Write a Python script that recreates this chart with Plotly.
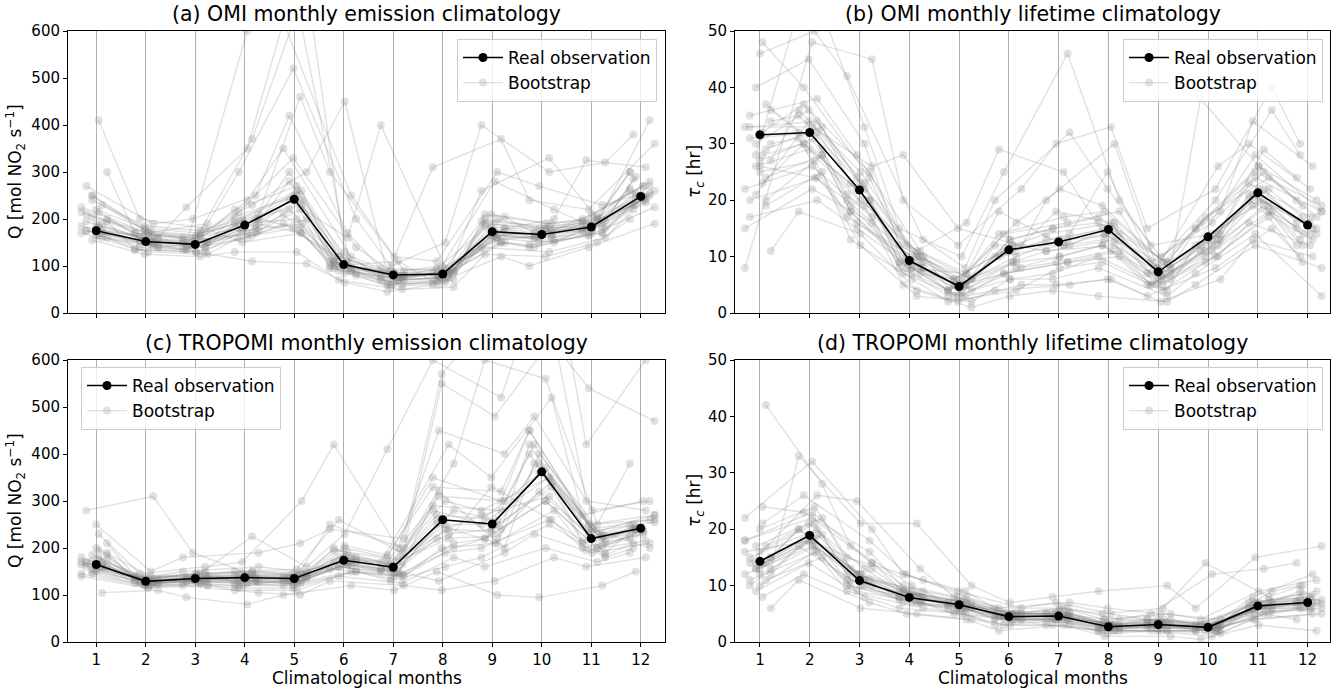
import plotly.graph_objects as go

months = list(range(1, 13))
month_labels = [str(m) for m in months]

# Real observations
omi_Q = [175, 152, 146, 187, 242, 103, 81, 83, 173, 167, 183, 248]
omi_tau = [31.6, 32.0, 21.8, 9.3, 4.7, 11.2, 12.6, 14.8, 7.3, 13.5, 21.3, 15.6]
tropomi_Q = [165, 129, 135, 137, 135, 174, 159, 260, 251, 362, 220, 242]
tropomi_tau = [14.3, 18.9, 10.9, 7.9, 6.6, 4.5, 4.6, 2.7, 3.1, 2.6, 6.4, 7.0]

# Bootstrap samples
omi_Q_boot = [
    [180, 150, 140, 200, 260, 110, 75, 80, 170, 160, 180, 250],
    [210, 165, 155, 170, 220, 95, 70, 75, 190, 175, 195, 270],
    [160, 140, 135, 240, 350, 120, 85, 90, 160, 150, 170, 230],
    [250, 180, 170, 190, 200, 90, 60, 70, 210, 190, 200, 300],
    [300, 170, 160, 370, 700, 130, 65, 85, 150, 140, 165, 260],
    [170, 130, 125, 160, 180, 80, 55, 65, 140, 130, 160, 220],
    [190, 155, 150, 210, 460, 300, 90, 100, 280, 220, 190, 240],
    [410, 200, 180, 150, 170, 100, 110, 60, 180, 160, 210, 280],
    [175, 145, 140, 180, 240, 160, 400, 80, 165, 170, 175, 245],
    [230, 160, 145, 600, 800, 90, 75, 95, 200, 180, 185, 290],
    [155, 125, 120, 130, 130, 70, 50, 55, 125, 120, 150, 200],
    [200, 170, 165, 230, 300, 450, 85, 310, 370, 240, 220, 360],
    [185, 150, 150, 180, 250, 85, 60, 70, 260, 330, 180, 230],
    [220, 175, 160, 200, 180, 100, 80, 85, 175, 200, 325, 310],
    [165, 140, 130, 175, 190, 110, 70, 75, 150, 140, 170, 410],
    [270, 190, 200, 250, 420, 170, 95, 90, 210, 190, 200, 270],
    [175, 160, 225, 350, 620, 250, 120, 110, 300, 270, 230, 250],
    [240, 185, 175, 195, 260, 120, 75, 90, 190, 180, 190, 260],
    [195, 135, 130, 110, 105, 65, 45, 60, 120, 100, 140, 190],
    [215, 170, 190, 300, 520, 200, 100, 150, 400, 300, 320, 380],
    [165, 145, 135, 175, 220, 95, 70, 75, 165, 155, 175, 235],
    [185, 160, 150, 195, 230, 105, 80, 80, 180, 170, 185, 255],
    [195, 150, 145, 185, 280, 115, 85, 85, 175, 165, 190, 250],
    [170, 140, 145, 170, 210, 90, 65, 70, 160, 160, 170, 240],
    [205, 165, 160, 205, 250, 100, 75, 90, 185, 175, 200, 265],
    [160, 135, 130, 165, 200, 85, 60, 65, 150, 145, 165, 225],
    [225, 170, 150, 215, 330, 140, 90, 95, 195, 185, 195, 285],
    [180, 155, 155, 190, 170, 110, 80, 80, 170, 150, 180, 245],
    [215, 160, 140, 180, 240, 95, 70, 75, 205, 170, 185, 270],
    [175, 150, 150, 200, 300, 105, 75, 85, 165, 160, 175, 240],
    [190, 145, 135, 160, 190, 100, 85, 80, 155, 165, 200, 255],
    [250, 175, 165, 220, 270, 120, 80, 85, 200, 180, 205, 300],
]
omi_tau_boot = [
    [31, 32, 22, 9, 5, 11, 13, 15, 7, 13, 21, 16],
    [20, 28, 18, 7, 3, 8, 10, 12, 5, 10, 18, 12],
    [40, 45, 30, 12, 6, 14, 16, 18, 9, 16, 25, 20],
    [27, 36, 25, 10, 4, 6, 7, 10, 4, 12, 28, 18],
    [15, 22, 16, 5, 2, 5, 5, 6, 3, 8, 15, 10],
    [46, 50, 42, 13, 8, 20, 32, 22, 10, 18, 34, 26],
    [23, 30, 20, 8, 7, 18, 12, 13, 6, 11, 22, 14],
    [35, 38, 28, 11, 3, 9, 20, 30, 8, 26, 30, 22],
    [19, 25, 13, 6, 2, 4, 8, 9, 4, 9, 17, 9],
    [28, 60, 33, 15, 10, 25, 46, 20, 12, 14, 20, 15],
    [11, 18, 14, 4, 1, 3, 4, 3, 2, 5, 12, 8],
    [33, 33, 26, 28, 15, 12, 18, 16, 7, 20, 36, 28],
    [25, 27, 17, 9, 5, 10, 14, 25, 6, 13, 19, 13],
    [48, 40, 24, 10, 16, 29, 25, 14, 8, 38, 26, 17],
    [17, 20, 15, 7, 6, 12, 11, 12, 5, 10, 16, 12],
    [37, 29, 19, 8, 4, 16, 22, 19, 9, 17, 24, 19],
    [21, 34, 23, 9, 5, 7, 9, 11, 5, 12, 29, 24],
    [30, 31, 12, 3, 2, 6, 6, 8, 3, 7, 14, 3],
    [8, 48, 45, 20, 12, 22, 30, 33, 15, 22, 40, 30],
    [26, 24, 20, 8, 3, 4, 5, 6, 2, 6, 13, 10],
    [28, 30, 20, 9, 5, 10, 12, 14, 7, 12, 20, 15],
    [33, 34, 24, 10, 6, 12, 14, 16, 8, 14, 23, 17],
    [24, 28, 18, 8, 4, 9, 10, 12, 6, 11, 19, 14],
    [30, 36, 22, 9, 4, 11, 13, 14, 7, 13, 22, 16],
    [36, 32, 20, 11, 6, 13, 15, 17, 9, 15, 24, 18],
    [22, 26, 17, 7, 3, 8, 9, 11, 5, 10, 18, 13],
    [27, 31, 21, 10, 5, 12, 12, 15, 7, 14, 21, 15],
    [32, 37, 25, 12, 7, 14, 17, 18, 8, 16, 26, 20],
    [20, 24, 16, 8, 5, 9, 11, 13, 6, 12, 20, 14],
    [29, 33, 23, 9, 4, 10, 13, 15, 7, 13, 22, 17],
    [26, 29, 19, 8, 3, 7, 9, 10, 5, 11, 19, 12],
    [34, 35, 23, 10, 6, 13, 15, 16, 9, 15, 25, 19],
]
tropomi_Q_boot = [
    [165, 130, 135, 138, 135, 175, 160, 260, 250, 360, 220, 240],
    [150, 120, 125, 120, 125, 160, 140, 200, 220, 300, 200, 220],
    [190, 135, 145, 150, 140, 200, 180, 350, 300, 450, 250, 260],
    [140, 115, 120, 115, 115, 150, 130, 160, 180, 250, 180, 200],
    [200, 140, 150, 160, 150, 250, 200, 550, 480, 650, 300, 280],
    [175, 125, 130, 130, 130, 170, 150, 130, 190, 230, 190, 210],
    [280, 310, 190, 140, 130, 190, 170, 420, 350, 520, 270, 300],
    [160, 125, 130, 125, 120, 150, 140, 250, 210, 400, 230, 240],
    [145, 120, 125, 110, 110, 140, 125, 180, 160, 200, 170, 190],
    [210, 140, 140, 225, 160, 230, 410, 600, 520, 700, 540, 470],
    [180, 130, 140, 140, 145, 180, 165, 300, 280, 350, 210, 250],
    [155, 120, 120, 105, 100, 130, 120, 110, 130, 180, 160, 180],
    [230, 145, 160, 170, 300, 420, 200, 450, 400, 480, 280, 300],
    [170, 128, 135, 130, 140, 165, 155, 220, 330, 260, 200, 230],
    [105, 110, 95, 80, 100, 120, 110, 150, 100, 95, 120, 150],
    [185, 135, 145, 150, 155, 260, 190, 380, 600, 560, 250, 380],
    [160, 125, 130, 140, 135, 180, 160, 280, 240, 420, 230, 270],
    [170, 125, 135, 130, 125, 170, 150, 240, 270, 310, 190, 240],
    [250, 150, 180, 190, 210, 240, 220, 570, 700, 800, 420, 600],
    [195, 130, 150, 120, 135, 200, 145, 320, 200, 380, 240, 200],
    [160, 128, 132, 130, 130, 165, 150, 230, 240, 330, 210, 235],
    [170, 132, 138, 140, 138, 178, 162, 270, 260, 380, 225, 245],
    [155, 125, 128, 125, 128, 160, 145, 210, 220, 300, 200, 225],
    [175, 135, 140, 145, 140, 185, 170, 290, 280, 400, 235, 255],
    [165, 130, 135, 135, 132, 172, 158, 250, 250, 350, 220, 240],
    [150, 122, 128, 128, 125, 155, 140, 200, 210, 280, 195, 215],
    [180, 135, 142, 148, 145, 195, 175, 310, 300, 420, 240, 260],
    [168, 128, 133, 135, 135, 170, 155, 240, 235, 340, 215, 238],
    [158, 124, 130, 128, 128, 162, 148, 220, 225, 320, 205, 230],
    [172, 133, 137, 142, 140, 180, 165, 280, 265, 370, 228, 248],
    [185, 138, 145, 150, 148, 205, 185, 330, 320, 450, 250, 270],
    [145, 118, 122, 120, 120, 150, 135, 190, 200, 260, 185, 210],
]
tropomi_tau_boot = [
    [14, 19, 11, 8, 6.6, 4.5, 4.6, 2.7, 3.1, 2.6, 6.4, 7],
    [12, 17, 10, 7, 6, 4, 4, 2, 2, 2, 5, 6],
    [18, 22, 14, 10, 8, 5, 5, 3, 4, 3, 7, 9],
    [10, 16, 9, 6, 5, 3, 3, 1.5, 2, 1.5, 4, 5],
    [21, 26, 18, 12, 8, 6, 6, 4, 5, 4, 9, 11],
    [15, 20, 12, 8, 7, 5, 5, 3, 3, 3, 6, 8],
    [42, 28, 17, 10, 7, 5, 6, 5, 6, 14, 8, 10],
    [9, 14, 8, 6, 5, 3, 4, 2, 2, 1, 5, 4],
    [13, 33, 21, 21, 10, 7, 8, 9, 10, 6, 15, 17],
    [16, 18, 13, 9, 6, 4, 4, 3, 3, 2, 6, 7],
    [20, 24, 15, 11, 9, 6, 7, 6, 5, 4, 8, 12],
    [8, 12, 7, 5, 4, 2, 3, 1, 1, 0.5, 3, 2],
    [14, 26, 25, 13, 8, 5, 5, 3, 4, 3, 7, 8],
    [11, 15, 10, 7, 6, 4, 4, 2, 3, 2, 5, 6],
    [17, 21, 13, 9, 7, 5, 6, 4, 5, 12, 13, 14],
    [6, 11, 6, 5, 4, 3, 3, 2, 2, 2, 4, 5],
    [22, 32, 20, 12, 9, 6, 7, 5, 4, 3, 9, 10],
    [13, 18, 11, 8, 6, 4, 5, 3, 3, 3, 6, 7],
    [24, 23, 16, 9, 7, 5, 5, 4, 4, 3, 7, 9],
    [10, 19, 12, 7, 5, 4, 3, 2, 2, 2, 6, 6],
    [14, 19, 11, 8, 6.5, 4.5, 4.6, 2.8, 3.1, 2.7, 6.3, 7],
    [13, 18, 10, 7.5, 6, 4, 4.2, 2.5, 2.8, 2.3, 6, 6.5],
    [15, 20, 12, 8.5, 7, 5, 5, 3, 3.5, 3, 7, 7.5],
    [12, 17, 10, 7, 6, 4, 4, 2.3, 2.6, 2.2, 5.5, 6],
    [16, 21, 12, 9, 7.5, 5, 5.2, 3.2, 3.6, 3.2, 7.2, 8],
    [14, 18, 11, 8, 6.5, 4.5, 4.6, 2.7, 3, 2.6, 6.4, 7],
    [11, 16, 9, 7, 5.5, 3.8, 3.8, 2.2, 2.5, 2, 5.2, 5.8],
    [17, 22, 13, 9, 7, 5.2, 5.5, 3.5, 4, 3.5, 7.5, 8.5],
    [13, 19, 11, 8, 6.8, 4.7, 4.8, 2.9, 3.3, 2.8, 6.6, 7.2],
    [15, 20, 12, 8, 6.2, 4.3, 4.4, 2.6, 2.9, 2.4, 6.1, 6.8],
    [18, 23, 14, 9, 7.2, 5, 5.1, 3.1, 3.4, 3, 7, 7.8],
    [12, 17, 10, 7.5, 6, 4.2, 4.3, 2.4, 2.7, 2.3, 5.8, 6.2],
]

# Month jitter of the bootstrap samples (estimated)
jitter_patterns = [
    [0.05, -0.12, 0.20, -0.05, 0.15, -0.20, 0.10, -0.08, 0.25, -0.15, 0.02, 0.18],
    [-0.20, 0.15, -0.05, 0.22, -0.10, 0.08, -0.25, 0.12, -0.02, 0.20, -0.18, 0.05],
    [0.12, 0.25, -0.18, 0.05, -0.22, 0.15, 0.02, -0.12, 0.10, -0.05, 0.22, -0.10],
    [-0.08, -0.02, 0.10, -0.20, 0.05, -0.10, 0.18, 0.22, -0.15, 0.08, 0.12, -0.22],
    [0.22, -0.22, 0.02, 0.15, 0.25, 0.02, -0.12, -0.20, 0.18, -0.25, -0.05, 0.28],
    [-0.30, 0.05, 0.25, -0.12, -0.02, 0.25, -0.05, 0.05, -0.22, 0.15, 0.28, -0.15],
    [0.00, 0.10, -0.25, 0.28, 0.12, -0.28, 0.22, -0.02, 0.05, 0.25, -0.10, 0.10],
]

titles = [
    "(a) OMI monthly emission climatology",
    "(b) OMI monthly lifetime climatology",
    "(c) TROPOMI monthly emission climatology",
    "(d) TROPOMI monthly lifetime climatology",
]
q_label = "Q [mol NO<sub>2</sub> s<sup>−1</sup>]"
tau_label = "<i>τ<sub>c</sub></i> [hr]"
x_label = "Climatological months"

W, H = 1338, 690
FONT = "DejaVu Sans"

def px_x(p):
    return p / W

def px_y(p):
    return 1 - p / H

panels = [
    dict(real=omi_Q, boot=omi_Q_boot, x0=68, x1=665, y0=31, y1=313, xr=[0.43, 12.49],
         yr=[0, 600], dt=100, lab=q_label, leg=("r", 657, 39), labx=15),
    dict(real=omi_tau, boot=omi_tau_boot, x0=735, x1=1330, y0=31, y1=313, xr=[0.5, 12.45],
         yr=[0, 50], dt=10, lab=tau_label, leg=("r", 1323, 39), labx=695),
    dict(real=tropomi_Q, boot=tropomi_Q_boot, x0=68, x1=665, y0=360, y1=642, xr=[0.43, 12.49],
         yr=[0, 600], dt=100, lab=q_label, leg=("l", 81, 367), labx=15),
    dict(real=tropomi_tau, boot=tropomi_tau_boot, x0=735, x1=1330, y0=360, y1=642, xr=[0.5, 12.45],
         yr=[0, 50], dt=10, lab=tau_label, leg=("r", 1323, 367), labx=695),
]

fig = go.Figure()
boot_color = "rgba(128,128,128,0.24)"
layout = {}
annotations = []

for i, p in enumerate(panels):
    n = i + 1
    xa = "x" if n == 1 else f"x{n}"
    ya = "y" if n == 1 else f"y{n}"
    legname = "legend" if n == 1 else f"legend{n}"
    for k, vals in enumerate(p["boot"]):
        jit = jitter_patterns[(k + i) % len(jitter_patterns)]
        fig.add_trace(go.Scatter(
            x=[m + j for m, j in zip(months, jit)], y=vals, mode="lines+markers",
            name="Bootstrap", showlegend=(k == 0),
            line=dict(color=boot_color, width=1.4),
            marker=dict(color=boot_color, size=8),
            xaxis=xa, yaxis=ya, legend=legname, hoverinfo="skip",
        ))
    fig.add_trace(go.Scatter(
        x=months, y=p["real"], mode="lines+markers", name="Real observation",
        line=dict(color="black", width=1.6), marker=dict(color="black", size=9),
        xaxis=xa, yaxis=ya, legend=legname,
    ))
    bottom = i >= 2
    layout[f"xaxis{'' if n == 1 else n}"] = dict(
        domain=[px_x(p["x0"]), px_x(p["x1"])], anchor=ya, range=p["xr"], automargin=False,
        tickmode="array", tickvals=months, ticktext=month_labels, showticklabels=bottom,
        ticks="outside", ticklen=4, tickcolor="black",
        showgrid=True, gridcolor="#b0b0b0", gridwidth=0.8,
        showline=True, linecolor="black", linewidth=1, mirror=True, zeroline=False,
        tickfont=dict(family=FONT, size=15, color="black"),
    )
    layout[f"yaxis{'' if n == 1 else n}"] = dict(
        domain=[px_y(p["y1"]), px_y(p["y0"])], anchor=xa, range=p["yr"], automargin=False,
        tickmode="linear", tick0=0, dtick=p["dt"],
        ticks="outside", ticklen=4, tickcolor="black", showgrid=False,
        showline=True, linecolor="black", linewidth=1, mirror=True, zeroline=False,
        tickfont=dict(family=FONT, size=15, color="black"),
    )
    side, lxp, lyp = p["leg"]
    layout[legname] = dict(
        x=px_x(lxp), y=px_y(lyp), xanchor="right" if side == "r" else "left", yanchor="top",
        bgcolor="rgba(255,255,255,0.8)", bordercolor="#cccccc", borderwidth=1,
        font=dict(family=FONT, size=17, color="black"), traceorder="reversed",
        itemwidth=40,
    )
    annotations.append(dict(
        text=titles[i], x=(px_x(p["x0"]) + px_x(p["x1"])) / 2, y=px_y(p["y0"] - 3),
        xref="paper", yref="paper", xanchor="center", yanchor="bottom", showarrow=False,
        font=dict(family=FONT, size=20.5, color="black"),
    ))
    annotations.append(dict(
        text=p["lab"], x=px_x(p["labx"]), y=(px_y(p["y0"]) + px_y(p["y1"])) / 2,
        xref="paper", yref="paper", xanchor="center", yanchor="middle", showarrow=False,
        textangle=-90, font=dict(family=FONT, size=17, color="black"),
    ))
    if bottom:
        annotations.append(dict(
            text=x_label, x=(px_x(p["x0"]) + px_x(p["x1"])) / 2, y=px_y(678),
            xref="paper", yref="paper", xanchor="center", yanchor="middle", showarrow=False,
            font=dict(family=FONT, size=17, color="black"),
        ))

fig.update_layout(
    width=W, height=H, margin=dict(l=0, r=0, t=0, b=0),
    paper_bgcolor="white", plot_bgcolor="white",
    font=dict(family=FONT, color="black"),
    annotations=annotations, hovermode=False, **layout,
)

fig.write_html(
    "out.html",
    config={"displayModeBar": False},
    post_script="document.body.style.margin='0';document.body.style.padding='0';document.body.style.overflow='hidden';",
)
